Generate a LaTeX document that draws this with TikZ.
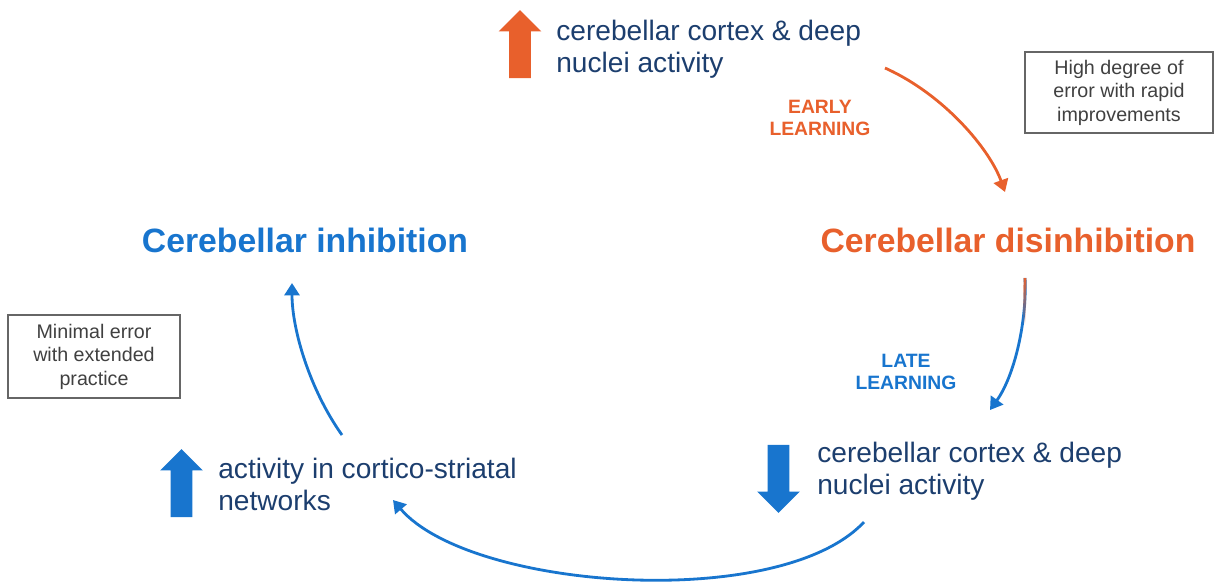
\documentclass[tikz,border=0pt]{standalone}
\usepackage{fontspec}
\setmainfont{Liberation Sans}
\usetikzlibrary{arrows.meta,shapes.arrows,fadings}
\definecolor{navy}{RGB}{28,62,110}
\definecolor{cblue}{RGB}{24,117,206}
\definecolor{corange}{RGB}{232,96,44}
\definecolor{notegray}{RGB}{64,64,64}

\begin{document}
\begin{tikzpicture}[x=0.02cm,y=-0.02cm,
                    >={Triangle[length=7pt,width=8.5pt]}]
  \tikzstyle{activity}=[text=navy,align=left,anchor=west,inner sep=0pt,
                        font=\fontsize{16}{18.2}\selectfont]
  \tikzstyle{phase}=[font=\bfseries\fontsize{19.2}{22}\selectfont,inner sep=0pt]
  \tikzstyle{stage}=[font=\bfseries\fontsize{11}{13}\selectfont,align=center,inner sep=0pt]
  \tikzstyle{note}=[draw=notegray!80,line width=0.8pt,text=notegray,align=center,
                    font=\fontsize{11.2}{13.4}\selectfont,inner sep=0pt]
  \tikzstyle{bigarrow}=[single arrow,draw=none,inner sep=0pt,minimum height=1.36cm,
                        single arrow head extend=0.21cm]
  \tikzstyle{loop}=[line width=1.6pt,->]

  \useasboundingbox (0,0) rectangle (1217,583);

	\node[bigarrow,fill=corange,rotate=90]	(up1)	at (520,49.5)	{\rule{0pt}{0.42cm}};
	\node[activity]	(cbup)	at (556,49)	{cerebellar cortex \& deep\\nuclei activity};
	\node[stage,text=corange]	(early)	at (820,118)	{EARLY\\LEARNING};
	\node[note,minimum width=3.76cm,minimum height=1.62cm]	(hinote)	at (1119,92.5)
		{High degree of\\error with rapid\\improvements};
	\node[phase,text=corange]	(dis)	at (1008,240)	{Cerebellar disinhibition};
	\node[stage,text=cblue]	(late)	at (906,372)	{LATE\\LEARNING};
	\node[bigarrow,fill=cblue,rotate=-90]	(down1)	at (778.5,473.5)	{\rule{0pt}{0.42cm}};
	\node[activity]	(cbdown)	at (817,471)	{cerebellar cortex \& deep\\nuclei activity};
	\node[bigarrow,fill=cblue,rotate=90]	(up2)	at (181.5,488.5)	{\rule{0pt}{0.42cm}};
	\node[activity]	(cstr)	at (218,484)	{activity in cortico-striatal\\networks};
	\node[phase,text=cblue]	(inh)	at (305,240)	{Cerebellar inhibition};
	\node[note,minimum width=3.44cm,minimum height=1.66cm]	(lonote)	at (94,356.5)
		{Minimal error\\with extended\\practice};

	\coordinate (a0) at (885,68);
	\coordinate (a1) at (1005,192);
	\coordinate (b0) at (1025,278);
	\coordinate (b1) at (990,410);
	\coordinate (c0) at (864,522);
	\coordinate (c1) at (393,500);
	\coordinate (d0) at (342,435);
	\coordinate (d1) at (292,283);

	\draw[loop,corange] (a0) .. controls (945,95) and (990,150) .. (a1);
	\draw[loop,cblue] (b0) .. controls (1027,320) and (1015,375) .. (b1);
	\draw[line width=1.6pt,corange,path fading=south] (b0) -- (1024.3,324);
	\draw[loop,cblue] (c0) .. controls (780,612) and (470,590) .. (c1);
	\draw[loop,cblue] (d0) .. controls (310,390) and (292,330) .. (d1);

\end{tikzpicture}
\end{document}
